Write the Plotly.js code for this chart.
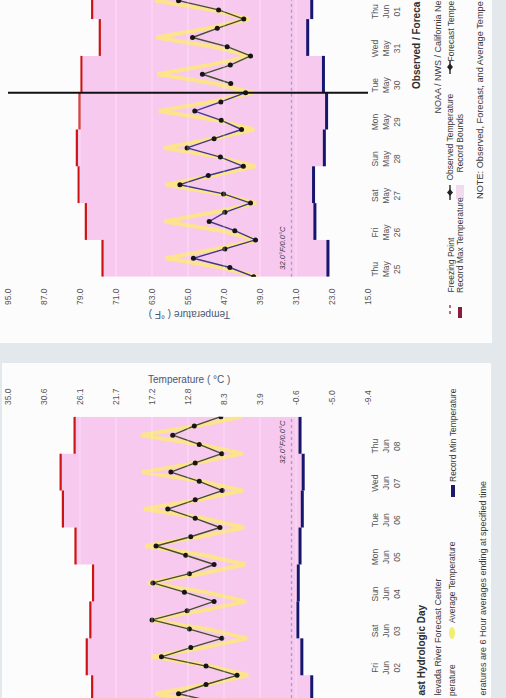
<!DOCTYPE html>
<html><head><meta charset="utf-8">
<script src="https://cdn.plot.ly/plotly-3.0.1.min.js"></script>
<style>html,body{margin:0;padding:0;background:#e3e8ed;}#chart{width:506px;height:698px;}</style>
</head><body><div id="chart"></div>
<script>
// ---------- data ----------
const startDate = [2017, 4, 25];           // Thu May 25 2017, 00:00
const dayLabels = ['Thu May 25','Fri May 26','Sat May 27','Sun May 28','Mon May 29','Tue May 30','Wed May 31',
                   'Thu Jun 01','Fri Jun 02','Sat Jun 03','Sun Jun 04','Mon Jun 05','Tue Jun 06','Wed Jun 07','Thu Jun 08'];
const fTickVals = [95,87,79,71,63,55,47,39,31,23,15];
const cTickText = ['35.0','30.6','26.1','21.7','17.2','12.8','8.3','3.9','-0.6','-5.0','-9.4'];
// 6-hour values, observed from May 25 00:00 to May 30 00:00
const observedTemps = [40.4,45.7,53.8,46.8, 40.0,44.6,50.3,46.8, 41.1,47.1,56.8,50.5, 42.7,47.8,55.2,49.2, 43.1,47.6,53.5,47.7, 42.2];
// 6-hour values, forecast from May 30 06:00 to Jun 09 00:00
const forecastTemps = [45.5,51.8,45.6, 41.1,46.3,54.0,48.5, 42.6,48.2,57.1,51.0, 44.1,51.0,60.9,54.4,
                       47.5,54.7,63.0,55.2, 49.2,55.8,62.8,54.7, 49.2,55.5,62.1,54.4, 47.9,53.4,59.5,53.4,
                       47.4,52.5,58.8,53.4, 47.5,52.5,58.4,53.6, 47.7];
// 6-hour average temperature, May 25 00:00 to Jun 09 00:00
const averageTemps = [39.5,47.5,60.0,49.0, 39.6,47.6,60.2,49.2, 39.8,47.8,60.0,49.3, 40.0,48.2,60.4,49.5,
                      40.3,48.6,61.5,50.0, 40.6,49.0,61.8,50.3, 41.0,49.4,62.0,50.6, 41.3,49.8,62.3,51.0,
                      41.6,50.2,63.0,51.4, 41.9,50.6,63.5,51.8, 42.1,51.0,64.0,52.1, 42.3,51.3,64.5,52.4,
                      42.5,51.6,64.8,52.7, 42.7,51.9,65.2,53.0, 42.9,52.2,65.5,53.3, 43.0];
// daily record values May 25 .. Jun 08
const recordMax = [74.0,77.7,79.3,79.7,79.1,78.7,74.6,76.3,77.5,76.7,76.1,80.0,82.8,83.3,80.2];
const recordMin = [23.9,26.8,27.1,24.7,24.2,24.9,28.4,27.5,29.7,30.6,30.5,30.1,29.6,29.4,30.1];
const freezingF = 32;
const nowHour = 120;   // May 30 00:00 observed / forecast divide

// ---------- helpers ----------
const W = 506, H = 698;
const px = v => v / W, py = v => 1 - v / H;
const base = Date.UTC(startDate[0], startDate[1], startDate[2]);
const t = h => new Date(base + h * 3600e3).toISOString().slice(0, 16).replace('T', ' ');

const obsTimes = observedTemps.map((_, i) => t(i * 6));
const fcTimes = forecastTemps.map((_, i) => t((observedTemps.length + i) * 6));
const avgTimes = averageTemps.map((_, i) => t(i * 6));
const recTimes = recordMax.map((_, i) => t(i * 24)).concat([t(recordMax.length * 24)]);
const recMaxX = recordMax.concat([recordMax[recordMax.length - 1]]);
const recMinX = recordMin.concat([recordMin[recordMin.length - 1]]);
// separate daily segments (the record lines are not joined between days)
function segments(vals) {
  const xs = [], ys = [];
  vals.forEach((v, i) => { xs.push(v, v, null); ys.push(t(i * 24), t((i + 1) * 24), null); });
  return {x: xs, y: ys};
}
const maxSeg = segments(recordMax), minSeg = segments(recordMin);
const tickTimes = dayLabels.map((_, i) => t(i * 24 + 4));
const tickText = dayLabels.map(s => s.split(' ').join('<br>'));

function tracesFor(xa, ya) {
  return [
    {x: recMinX, y: recTimes, xaxis: xa, yaxis: ya, mode: 'lines', line: {width: 0, shape: 'vh'}, hoverinfo: 'skip'},
    {x: recMaxX, y: recTimes, xaxis: xa, yaxis: ya, mode: 'lines', line: {width: 0, shape: 'vh'},
     fill: 'tonextx', fillcolor: '#f8c9ee', hoverinfo: 'skip'},
    {x: minSeg.x, y: minSeg.y, xaxis: xa, yaxis: ya, mode: 'lines', connectgaps: false, line: {color: '#16166f', width: 3}},
    {x: maxSeg.x, y: maxSeg.y, xaxis: xa, yaxis: ya, mode: 'lines', connectgaps: false, line: {color: '#cc1414', width: 2.2}},
    {x: averageTemps, y: avgTimes, xaxis: xa, yaxis: ya, mode: 'lines', line: {color: 'rgba(255,244,80,0.62)', width: 4}},
    {x: observedTemps, y: obsTimes, xaxis: xa, yaxis: ya, mode: 'lines+markers',
     line: {color: '#40388c', width: 1.4}, marker: {color: '#151515', size: 5}},
    {x: forecastTemps, y: fcTimes, xaxis: xa, yaxis: ya, mode: 'lines+markers',
     line: {color: '#474d34', width: 1.4}, marker: {color: '#151515', size: 5}}
  ];
}
const data = tracesFor('x', 'y').concat(tracesFor('x2', 'y2'));

const tickFont = {size: 8.5, color: '#555', family: 'Liberation Sans, Arial, sans-serif'};
const xBase = {domain: [px(8), px(368)], range: [95, 15], tickmode: 'array', tickvals: fTickVals, tickangle: -90,
  ticks: '', showgrid: false, zeroline: false, showline: false, tickfont: tickFont, fixedrange: true};
const yBase = {type: 'date', side: 'right', tickmode: 'array', tickvals: tickTimes, ticktext: tickText, tickangle: -90,
  ticks: '', showgrid: false, zeroline: false, showline: false, tickfont: tickFont, fixedrange: true};

const shapes = [
  {type: 'rect', xref: 'paper', yref: 'paper', x0: 0, x1: px(492), y0: py(343), y1: 1, fillcolor: '#fcfcfc', line: {width: 0}, layer: 'below'},
  {type: 'rect', xref: 'paper', yref: 'paper', x0: px(2), x1: px(491), y0: 0, y1: py(363), fillcolor: '#fcfcfc', line: {width: 0}, layer: 'below'}
];
[['x', 'y'], ['x2', 'y2']].forEach(([xa, ya]) => {
  fTickVals.slice(1, -1).forEach(v => shapes.push({type: 'line', xref: xa, yref: ya + ' domain', x0: v, x1: v, y0: 0, y1: 1,
    line: {color: 'rgba(255,255,255,0.4)', width: 1}}));
  shapes.push({type: 'line', xref: xa, yref: ya + ' domain', x0: freezingF, x1: freezingF, y0: 0, y1: 1,
    line: {color: '#8ea4dc', width: 1.3, dash: 'dot'}});
});
shapes.push({type: 'line', xref: 'x domain', yref: 'y', x0: 0, x1: 1, y0: t(nowHour), y1: t(nowHour), line: {color: '#111', width: 2}});

// legend marks (drawn by hand, the original is rotated)
function vbar(x, y0, y1, color, w) { shapes.push({type: 'rect', xref: 'paper', yref: 'paper', x0: px(x - w / 2), x1: px(x + w / 2), y0: py(y1), y1: py(y0), fillcolor: color, line: {width: 0}}); }
function vline(x, y0, y1, color, dash) { shapes.push({type: 'line', xref: 'paper', yref: 'paper', x0: px(x), x1: px(x), y0: py(y0), y1: py(y1), line: {color: color, width: 1.5, dash: dash || 'solid'}}); }
function diamond(x, y) {
  shapes.push({type: 'path', xref: 'paper', yref: 'paper', fillcolor: '#222', line: {width: 0},
    path: `M${px(x)},${py(y - 3.5)} L${px(x + 3)},${py(y)} L${px(x)},${py(y + 3.5)} L${px(x - 3)},${py(y)} Z`});
}
vline(450, 305, 317, '#b23a3a', 'dot');
vbar(460, 307, 318, '#8c1c3c', 4);
vline(450, 185, 200, '#333'); diamond(450, 192.5);
vbar(460, 185, 199, '#f1dcef', 8);
vline(450, 60, 74, '#333'); diamond(450, 67);
shapes.push({type: 'circle', xref: 'paper', yref: 'paper', x0: px(449), x1: px(455), y0: py(639), y1: py(627), fillcolor: '#f2ee70', line: {width: 0}});
vbar(453, 485, 497, '#1b1b6e', 4);

const txtFont = (s, c) => ({size: s, color: c || '#3a3a3a', family: 'Liberation Sans, Arial, sans-serif'});
const ann = [];
function note(text, x, y, xanchor, yanchor, size, opts) {
  ann.push(Object.assign({text: text, xref: 'paper', yref: 'paper', x: px(x), y: py(y), xanchor: xanchor, yanchor: yanchor,
    textangle: -90, showarrow: false, font: txtFont(size), borderpad: 0}, opts || {}));
}
// axis titles
ann.push({text: 'Temperature ( °F )', xref: 'paper', yref: 'paper', x: px(190), y: py(315), xanchor: 'center', yanchor: 'middle',
  textangle: 180, showarrow: false, font: txtFont(10, '#4b5672')});
ann.push({text: 'Temperature ( °C )', xref: 'paper', yref: 'paper', x: px(188.5), y: py(379), xanchor: 'center', yanchor: 'middle',
  textangle: 0, showarrow: false, font: txtFont(10, '#4b5672')});
// titles / credits (cut by the page edges)
note('<b>Observed / Foreca</b>', 416, 0, 'center', 'top', 10, {font: txtFont(10, '#2e2e2e')});
note('<b>ast Hydrologic Day</b>', 421, 697, 'center', 'bottom', 10, {font: txtFont(10, '#2e2e2e')});
note('NOAA / NWS / California Ne', 437, 0, 'center', 'top', 9);
note('levada River Forecast Center', 437, 697, 'center', 'bottom', 9);
// legend texts
note('Freezing Point', 450, 294, 'center', 'bottom', 8.5);
note('Record Max Temperature', 460, 294, 'center', 'bottom', 8.5);
note('Observed Temperature', 450, 182, 'center', 'bottom', 8.5);
note('Record Bounds', 460, 174, 'center', 'bottom', 8.5);
note('Forecast Tempe', 450, 0, 'center', 'top', 8.5);
note('perature', 452, 697, 'center', 'bottom', 8.5);
note('Average Temperature', 452, 624, 'center', 'bottom', 8.5);
note('Record Min Temperature', 453, 483, 'center', 'bottom', 8.5);
// note line
note('NOTE: Observed, Forecast, and Average Tempe', 480, 0, 'center', 'top', 9.2);
note('eratures are 6 Hour averages ending at specified time', 482, 697, 'center', 'bottom', 9);
// freezing point labels
ann.push({text: '<i>32.0°F/0.0°C</i>', xref: 'x', yref: 'y', x: freezingF, y: t(0), xanchor: 'right', yanchor: 'bottom',
  xshift: -2, yshift: 5, textangle: -90, showarrow: false, font: txtFont(7.5, '#333')});
ann.push({text: '<i>32.0°F/0.0°C</i>', xref: 'x2', yref: 'y2', x: freezingF, y: t(360), xanchor: 'right', yanchor: 'top',
  xshift: -2, yshift: -1, textangle: -90, showarrow: false, font: txtFont(7.5, '#333')});

const layout = {
  width: W, height: H, margin: {l: 0, r: 0, t: 0, b: 0, pad: 0}, showlegend: false,
  paper_bgcolor: '#e3e8ed', plot_bgcolor: 'rgba(0,0,0,0)',
  font: {family: 'Liberation Sans, Arial, sans-serif', color: '#555'},
  xaxis: Object.assign({}, xBase, {anchor: 'y', side: 'bottom', tickformat: '.1f', ticklabelstandoff: 9}),
  yaxis: Object.assign({}, yBase, {anchor: 'x', domain: [py(276.7), 1], range: [t(0), t(180.45)]}),
  xaxis2: Object.assign({}, xBase, {anchor: 'free', position: py(403), side: 'top', ticktext: cTickText, ticklabelstandoff: -2}),
  yaxis2: Object.assign({}, yBase, {anchor: 'x2', domain: [0, py(416.7)], range: [t(177.25), t(360)]}),
  shapes: shapes, annotations: ann
};
Plotly.newPlot('chart', data, layout, {displayModeBar: false, staticPlot: true});
</script></body></html>
